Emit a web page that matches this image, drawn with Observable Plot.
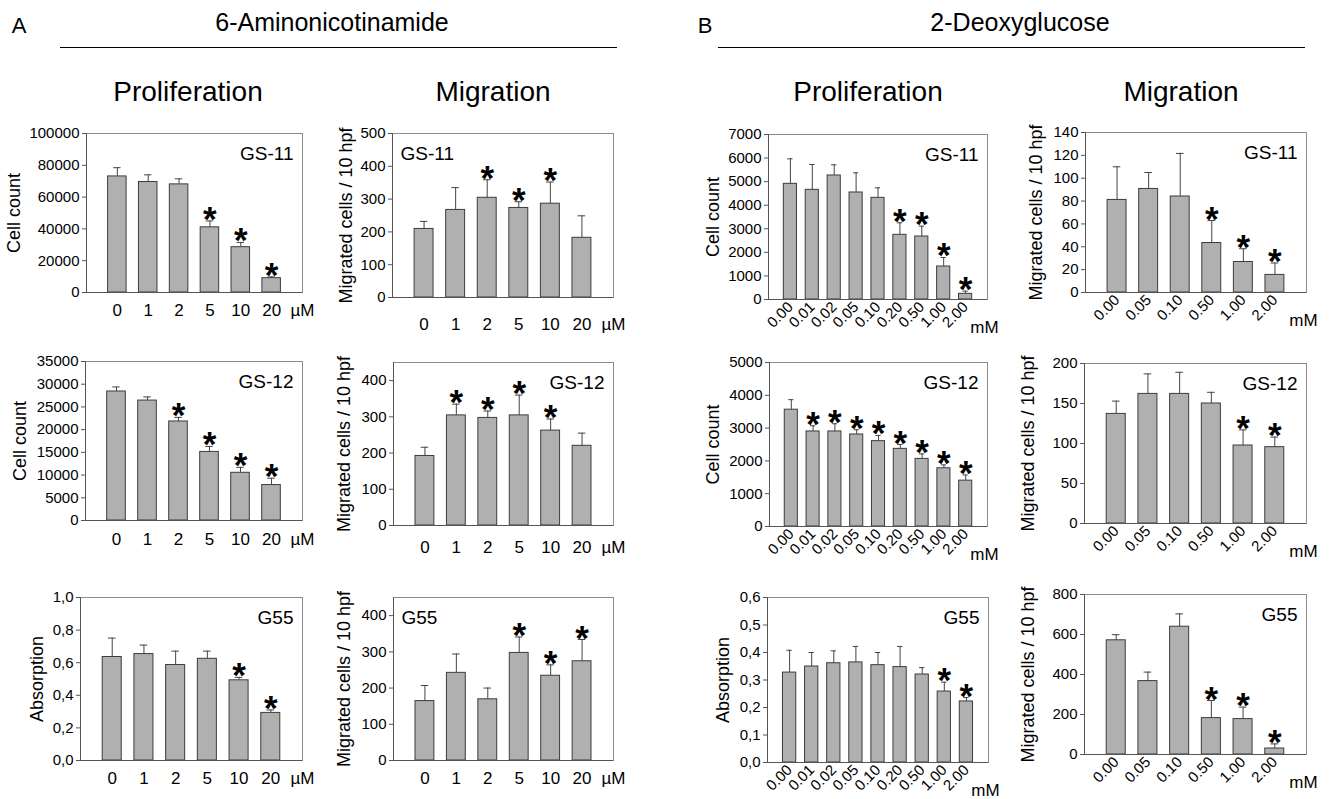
<!DOCTYPE html>
<html><head><meta charset="utf-8">
<script src="https://cdn.jsdelivr.net/npm/d3@7"></script>
<script src="https://cdn.jsdelivr.net/npm/@observablehq/plot@0.6"></script>
<style>
body{margin:0;background:#fff;font-family:"Liberation Sans",Arial,sans-serif;}
#root{position:relative;width:1329px;height:799px;overflow:hidden;background:#fff;}
.t{position:absolute;white-space:nowrap;color:#000;line-height:1;transform:translate(-50%,-50%);}
.hl{position:absolute;height:0;border-top:1.5px solid #000;}
.p{position:absolute;}
</style></head><body><div id="root"></div>
<script>
// ---- categories ----
const anDose = ["0","1","2","5","10","20"];
const dgDoseProl = ["0.00","0.01","0.02","0.05","0.10","0.20","0.50","1.00","2.00"];
const dgDoseMig = ["0.00","0.05","0.10","0.50","1.00","2.00"];

// ---- 6-Aminonicotinamide ----
const anProlGS11 = [73000, 69500, 68000, 41000, 28500, 9000];
const anProlGS11Err = [5500, 4500, 3500, 4000, 3000, 800];
const anProlGS11Sig = [0,0,0,1,1,1];
const anMigGS11 = [209, 267, 304, 273, 286, 182];
const anMigGS11Err = [23, 68, 55, 19, 66, 67];
const anMigGS11Sig = [0,0,1,1,1,0];
const anProlGS12 = [28400, 26400, 21800, 15100, 10500, 7800];
const anProlGS12Err = [1000, 800, 900, 1200, 1200, 1500];
const anProlGS12Sig = [0,0,1,1,1,1];
const anMigGS12 = [192, 304, 297, 304, 262, 220];
const anMigGS12Err = [24, 31, 19, 56, 32, 35];
const anMigGS12Sig = [0,1,1,1,1,0];
const anProlG55 = [0.635, 0.653, 0.586, 0.624, 0.492, 0.292];
const anProlG55Err = [0.116, 0.055, 0.085, 0.047, 0.018, 0.018];
const anProlG55Sig = [0,0,0,0,1,1];
const anMigG55 = [164, 242, 169, 297, 234, 274];
const anMigG55Err = [43, 52, 31, 44, 30, 60];
const anMigG55Sig = [0,0,0,1,1,1];

// ---- 2-Deoxyglucose ----
const dgProlGS11 = [4907, 4653, 5261, 4540, 4313, 2744, 2673, 1400, 240];
const dgProlGS11Err = [1061, 1074, 453, 834, 425, 509, 438, 382, 114];
const dgProlGS11Sig = [0,0,0,0,0,1,1,1,1];
const dgMigGS11 = [81, 90.6, 84, 43.3, 26.7, 15.4];
const dgMigGS11Err = [29, 14.4, 37.7, 19.7, 11.6, 10.4];
const dgMigGS11Sig = [0,0,0,1,1,1];
const dgProlGS12 = [3561, 2898, 2898, 2806, 2602, 2367, 2061, 1776, 1398];
const dgProlGS12Err = [306, 173, 235, 143, 174, 133, 153, 102, 173];
const dgProlGS12Sig = [0,1,1,1,1,1,1,1,1];
const dgMigGS12 = [137, 162, 162, 150, 97.5, 95.4];
const dgMigGS12Err = [16, 25, 27, 14, 19.5, 12.6];
const dgMigGS12Sig = [0,0,0,0,1,1];
const dgProlG55 = [0.327, 0.349, 0.361, 0.364, 0.354, 0.347, 0.320, 0.258, 0.222];
const dgProlG55Err = [0.081, 0.051, 0.045, 0.058, 0.046, 0.075, 0.025, 0.034, 0.014];
const dgProlG55Sig = [0,0,0,0,0,0,0,1,1];
const dgMigG55 = [571, 367, 639, 182, 177, 30];
const dgMigG55Err = [28, 45, 64, 88, 60, 23];
const dgMigG55Sig = [0,0,0,1,1,1];

const FONT = '"Liberation Sans", Arial, sans-serif';
const root = document.getElementById("root");

function addText(txt, x, y, size, extra) {
  const d = document.createElement("div");
  d.className = "t";
  d.textContent = txt;
  d.style.left = x + "px"; d.style.top = y + "px"; d.style.fontSize = size + "px";
  if (extra) Object.assign(d.style, extra);
  root.appendChild(d);
}
function addLine(x1, x2, y) {
  const d = document.createElement("div");
  d.className = "hl";
  d.style.left = x1 + "px"; d.style.top = y + "px"; d.style.width = (x2 - x1) + "px";
  root.appendChild(d);
}

addText("A", 19, 26, 22);
addText("6-Aminonicotinamide", 332, 22, 25);
addLine(60, 617, 47);
addText("B", 705, 26, 22);
addText("2-Deoxyglucose", 1020, 22, 25);
addLine(718, 1305, 47);
addText("Proliferation", 188, 92, 28);
addText("Migration", 493, 92, 28);
addText("Proliferation", 868, 92, 28);
addText("Migration", 1181, 92, 28);

const comma = d => d.toFixed(1).replace(".", ",");
const plain = d => String(d);

function panel(p) {
  const n = p.cats.length;
  const ml = 80, mr = 25, mt = 12, mb = 55;
  const rows = p.vals.map((v, k) => ({i: k + 1, v, e: p.err[k], s: p.sig[k]}));
  const yTicks = d3.range(0, p.yTop + p.yStep / 2, p.yStep);
  const marks = [
    Plot.rectY(rows, {x1: d => d.i - 0.3, x2: d => d.i + 0.3, y1: 0, y2: "v", fill: "#b0b0b0", stroke: "#3c3c3c", strokeWidth: 1}),
    Plot.ruleX(rows, {x: "i", y1: "v", y2: d => d.v + d.e, stroke: "#444", strokeWidth: 1}),
    Plot.ruleY(rows, {x1: d => d.i - 0.12, x2: d => d.i + 0.12, y: d => d.v + d.e, stroke: "#444", strokeWidth: 1}),
    Plot.frame({stroke: "#8c8c8c"}),
    Plot.ruleY([0], {stroke: "#555"}),
    Plot.ruleX([0], {stroke: "#555"}),
    Plot.axisY({ticks: yTicks, tickFormat: p.comma ? comma : plain, tickSize: 4, tickPadding: 3, fontSize: 15, label: null, stroke: "#555"}),
    Plot.text(rows.filter(d => d.s), {x: "i", y: d => d.v + d.e, text: () => "*", fontSize: 35, fontWeight: "bold", lineAnchor: "bottom", dy: 10}),
    Plot.text([p.name], {frameAnchor: p.nameLeft ? "top-left" : "top-right", text: d => d, dx: p.nameLeft ? 8 : -9, dy: 20, fontSize: 19, lineAnchor: "middle"}),
    Plot.text([p.ylabel], {frameAnchor: "left", text: d => d, rotate: -90, dx: -p.yOff, fontSize: 18, textAnchor: "middle", lineAnchor: "middle"})
  ];
  if (p.rot) {
    marks.push(Plot.axisX({ticks: d3.range(1, n + 1), tickFormat: i => p.cats[i - 1], tickRotate: -45, tickSize: 0, tickPadding: 5, fontSize: 15, label: null}));
    marks.push(Plot.text([p.unit], {x: n + 1, y: 0, text: d => d, dx: -3, dy: 28, fontSize: 17}));
  } else {
    marks.push(Plot.axisX({ticks: d3.range(1, n + 2), tickFormat: i => i <= n ? p.cats[i - 1] : p.unit, tickSize: 0, tickPadding: p.xPad, fontSize: 17, label: null}));
  }
  const svg = Plot.plot({
    width: (p.R - p.L) + ml + mr,
    height: (p.B - p.T) + mt + mb,
    marginLeft: ml, marginRight: mr, marginTop: mt, marginBottom: mb,
    x: {domain: [0, n + 1]},
    y: {domain: [0, p.yMax]},
    style: {fontFamily: FONT, background: "transparent", overflow: "visible", maxWidth: "none", color: "#000"},
    marks
  });
  const wrap = document.createElement("div");
  wrap.className = "p";
  wrap.style.left = (p.L - ml) + "px";
  wrap.style.top = (p.T - mt) + "px";
  wrap.appendChild(svg);
  root.appendChild(wrap);
}

const layout = [
  {L:86, R:302, T:133, B:292, cats:anDose, unit:"µM", vals:anProlGS11, err:anProlGS11Err, sig:anProlGS11Sig, yMax:100000, yTop:100000, yStep:20000, ylabel:"Cell count", yOff:72, name:"GS-11", xPad:11},
  {L:392, R:613, T:133, B:297, cats:anDose, unit:"µM", vals:anMigGS11, err:anMigGS11Err, sig:anMigGS11Sig, yMax:500, yTop:500, yStep:100, ylabel:"Migrated cells / 10 hpf", yOff:46, name:"GS-11", nameLeft:true, xPad:20},
  {L:85, R:302, T:361, B:520, cats:anDose, unit:"µM", vals:anProlGS12, err:anProlGS12Err, sig:anProlGS12Sig, yMax:35000, yTop:35000, yStep:5000, ylabel:"Cell count", yOff:65, name:"GS-12", xPad:12},
  {L:393, R:613, T:362, B:525, cats:anDose, unit:"µM", vals:anMigGS12, err:anMigGS12Err, sig:anMigGS12Sig, yMax:450, yTop:400, yStep:100, ylabel:"Migrated cells / 10 hpf", yOff:49, name:"GS-12", xPad:15},
  {L:80, R:302, T:597, B:760, cats:anDose, unit:"µM", vals:anProlG55, err:anProlG55Err, sig:anProlG55Sig, yMax:1, yTop:1, yStep:0.2, comma:true, ylabel:"Absorption", yOff:43, name:"G55", xPad:11},
  {L:393, R:613, T:597, B:760, cats:anDose, unit:"µM", vals:anMigG55, err:anMigG55Err, sig:anMigG55Sig, yMax:450, yTop:400, yStep:100, ylabel:"Migrated cells / 10 hpf", yOff:49, name:"G55", nameLeft:true, xPad:11},
  {L:768, R:987, T:134, B:299, cats:dgDoseProl, unit:"mM", rot:true, vals:dgProlGS11, err:dgProlGS11Err, sig:dgProlGS11Sig, yMax:7000, yTop:7000, yStep:1000, ylabel:"Cell count", yOff:55, name:"GS-11"},
  {L:1085, R:1306, T:132, B:292, cats:dgDoseMig, unit:"mM", rot:true, vals:dgMigGS11, err:dgMigGS11Err, sig:dgMigGS11Sig, yMax:140, yTop:140, yStep:20, ylabel:"Migrated cells / 10 hpf", yOff:49, name:"GS-11"},
  {L:769, R:987, T:362, B:526, cats:dgDoseProl, unit:"mM", rot:true, vals:dgProlGS12, err:dgProlGS12Err, sig:dgProlGS12Sig, yMax:5000, yTop:5000, yStep:1000, ylabel:"Cell count", yOff:56, name:"GS-12"},
  {L:1084, R:1306, T:363, B:523, cats:dgDoseMig, unit:"mM", rot:true, vals:dgMigGS12, err:dgMigGS12Err, sig:dgMigGS12Sig, yMax:200, yTop:200, yStep:50, ylabel:"Migrated cells / 10 hpf", yOff:56, name:"GS-12"},
  {L:767, R:988, T:597, B:762, cats:dgDoseProl, unit:"mM", rot:true, vals:dgProlG55, err:dgProlG55Err, sig:dgProlG55Sig, yMax:0.6, yTop:0.6, yStep:0.1, comma:true, ylabel:"Absorption", yOff:44, name:"G55"},
  {L:1084, R:1306, T:594, B:754, cats:dgDoseMig, unit:"mM", rot:true, vals:dgMigG55, err:dgMigG55Err, sig:dgMigG55Sig, yMax:800, yTop:800, yStep:200, ylabel:"Migrated cells / 10 hpf", yOff:56, name:"G55"}
];
layout.forEach(panel);
</script>
</body></html>
